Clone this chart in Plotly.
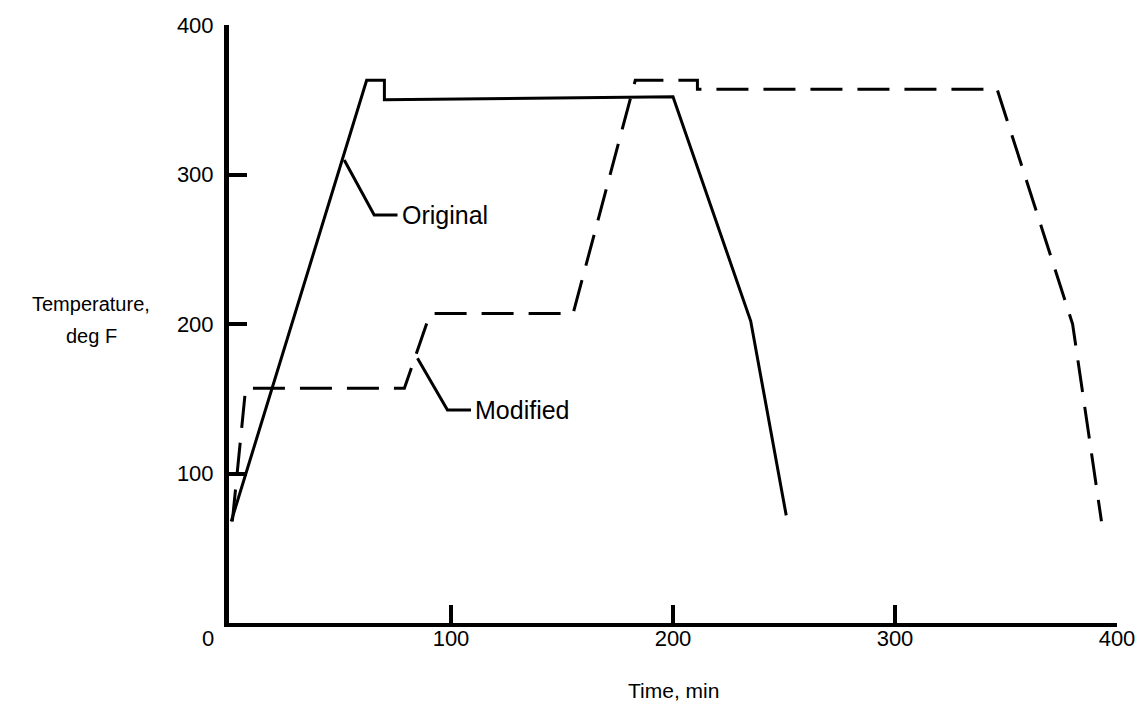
import plotly.graph_objects as go

# cure cycle, time in min / temperature in deg F
orig_time = [1, 62, 70, 70, 200, 235, 251]
orig_temp = [68, 363, 363, 350, 352, 202, 72]

mod_time = [1.5, 7.5, 79, 90.6, 155, 183, 211, 211, 346, 380, 393]
mod_temp = [68, 157, 157, 207, 207, 363, 363, 357, 357, 200, 68]

# leader lines for the labels
orig_lead_time = [51.9, 65.4, 75.9]
orig_lead_temp = [309.7, 272.9, 272.9]
mod_lead_time = [84.9, 98.4, 109]
mod_lead_temp = [177.1, 142.5, 142.5]

x_ticks = [100, 200, 300, 400]
y_ticks = [100, 200, 300, 400]

FONT = "Liberation Sans, Arial, sans-serif"

fig = go.Figure()
fig.add_trace(go.Scatter(x=orig_time, y=orig_temp, mode="lines",
                         line=dict(color="black", width=3)))
fig.add_trace(go.Scatter(x=mod_time, y=mod_temp, mode="lines",
                         line=dict(color="black", width=3, dash="32px,15px")))
fig.add_trace(go.Scatter(x=orig_lead_time, y=orig_lead_temp, mode="lines",
                         line=dict(color="black", width=3)))
fig.add_trace(go.Scatter(x=mod_lead_time, y=mod_lead_temp, mode="lines",
                         line=dict(color="black", width=3)))

fig.add_annotation(x=orig_lead_time[-1], y=orig_lead_temp[-1], text="Original",
                   showarrow=False, xanchor="left", xshift=2, font=dict(size=25))
fig.add_annotation(x=mod_lead_time[-1], y=mod_lead_temp[-1], text="Modified",
                   showarrow=False, xanchor="left", xshift=2, font=dict(size=25))
fig.add_annotation(x=0, y=0, text="0", showarrow=False, xanchor="center",
                   yanchor="top", xshift=-21, yshift=-1, font=dict(size=22))
fig.add_annotation(x=200, y=0, text="Time, min", showarrow=False,
                   xanchor="center", yanchor="top", yshift=-54,
                   font=dict(size=21))
fig.add_annotation(x=91, y=304, xref="paper", yref="paper", text="Temperature,",
                   showarrow=False, xanchor="center", yanchor="middle",
                   font=dict(size=20))
fig.add_annotation(x=91, y=336, xref="paper", yref="paper", text="deg F",
                   showarrow=False, xanchor="center", yanchor="middle",
                   font=dict(size=20))

fig.update_layout(
    width=1137, height=703,
    margin=dict(l=229, r=20, t=25, b=80),
    paper_bgcolor="white", plot_bgcolor="white",
    showlegend=False,
    font=dict(family=FONT, size=20, color="black"),
    xaxis=dict(range=[0, 400], tickvals=x_ticks, ticks="inside", ticklen=18,
               tickwidth=4, tickcolor="black", showline=True, linewidth=4,
               linecolor="black", showgrid=False, zeroline=False,
               tickfont=dict(size=22), ticklabelstandoff=-7, automargin=False),
    yaxis=dict(range=[0, 400], tickvals=y_ticks, ticks="inside", ticklen=18,
               tickwidth=4, tickcolor="black", showline=True, linewidth=5,
               linecolor="black", showgrid=False, zeroline=False,
               tickfont=dict(size=22), ticklabelstandoff=6, automargin=False),
)

# paper-coordinate annotations above are given in pixels, convert them
for ann in fig.layout.annotations:
    if ann.xref == "paper":
        ann.x = (ann.x - 229) / (1137 - 229 - 20)
        ann.y = (623 - ann.y) / (623 - 25)

# drop the default page margin so the figure sits at the window corner
fig.write_html("out.html", config={"displayModeBar": False},
               post_script="document.body.style.margin='0';"
                           "document.body.style.overflow='hidden';")
